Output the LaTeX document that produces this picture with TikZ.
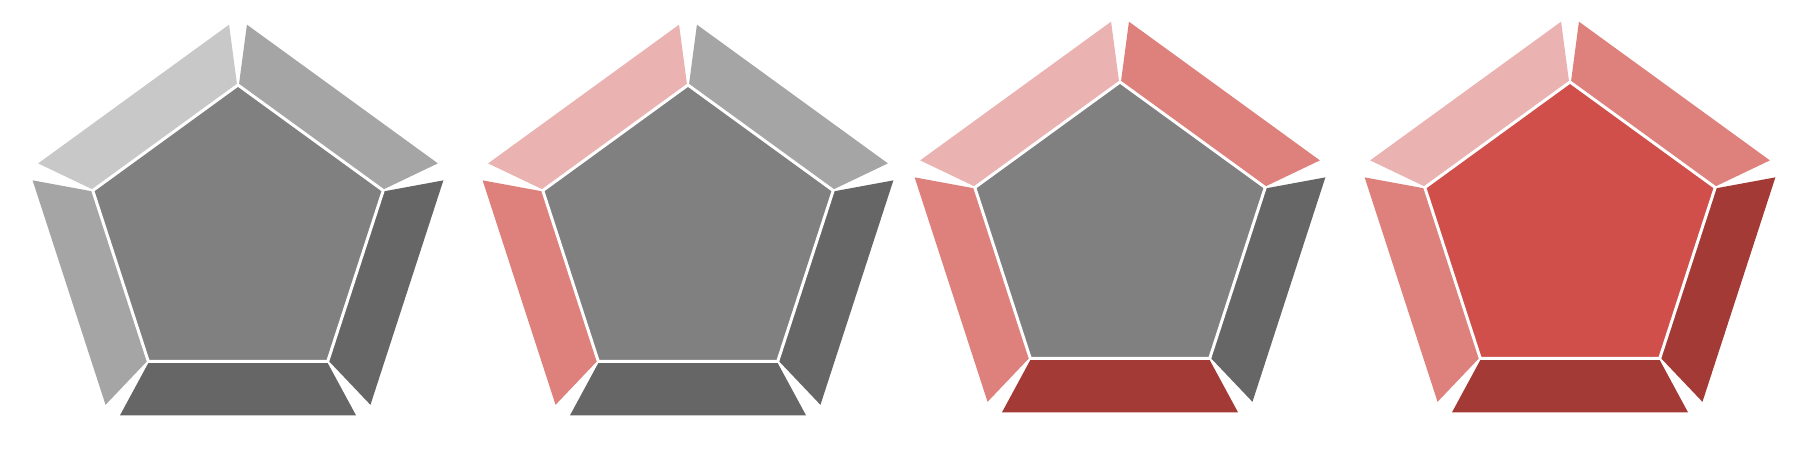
\documentclass[tikz,border=0pt]{standalone}
\definecolor{gLight}{HTML}{C8C8C8}
\definecolor{gMid}{HTML}{A5A5A5}
\definecolor{gDark}{HTML}{666666}
\definecolor{gCore}{HTML}{808080}
\definecolor{rPink}{HTML}{EAB3B1}
\definecolor{rSalmon}{HTML}{DE807B}
\definecolor{rDark}{HTML}{A33A36}
\definecolor{rCore}{HTML}{D04F4A}
\newcommand{\gemfig}[8]{%
\begin{scope}[shift={(#1,#2)}]
  \foreach \ang/\col in {0/#3,72/#4,144/#5,216/#6,288/#7}{
    \fill[\col, rotate=\ang] (-88.7,-123.5) -- (88.7,-123.5) -- (118,-177.6) -- (-118,-177.6) -- cycle;
  }
  \filldraw[fill=#8, corestroke] (90:152.7) -- (162:152.7) -- (234:152.7) -- (306:152.7) -- (18:152.7) -- cycle;
\end{scope}}
\begin{document}
\begin{tikzpicture}[x=0.01cm,y=0.01cm,
  corestroke/.style={draw=white, line width=0.03cm, line join=miter}]
\fill[white] (0,0) rectangle (1800,450);
\useasboundingbox (0,0) rectangle (1800,450);
% bottom, right, top-right, top-left, left, core
\gemfig{238}{212.3}{gDark}{gDark}{gMid}{gLight}{gMid}{gCore}
\gemfig{688}{212.3}{gDark}{gDark}{gMid}{rPink}{rSalmon}{gCore}
\gemfig{1120}{215.3}{rDark}{gDark}{rSalmon}{rPink}{rSalmon}{gCore}
\gemfig{1570}{215.3}{rDark}{rDark}{rSalmon}{rPink}{rSalmon}{rCore}
\end{tikzpicture}
\end{document}
